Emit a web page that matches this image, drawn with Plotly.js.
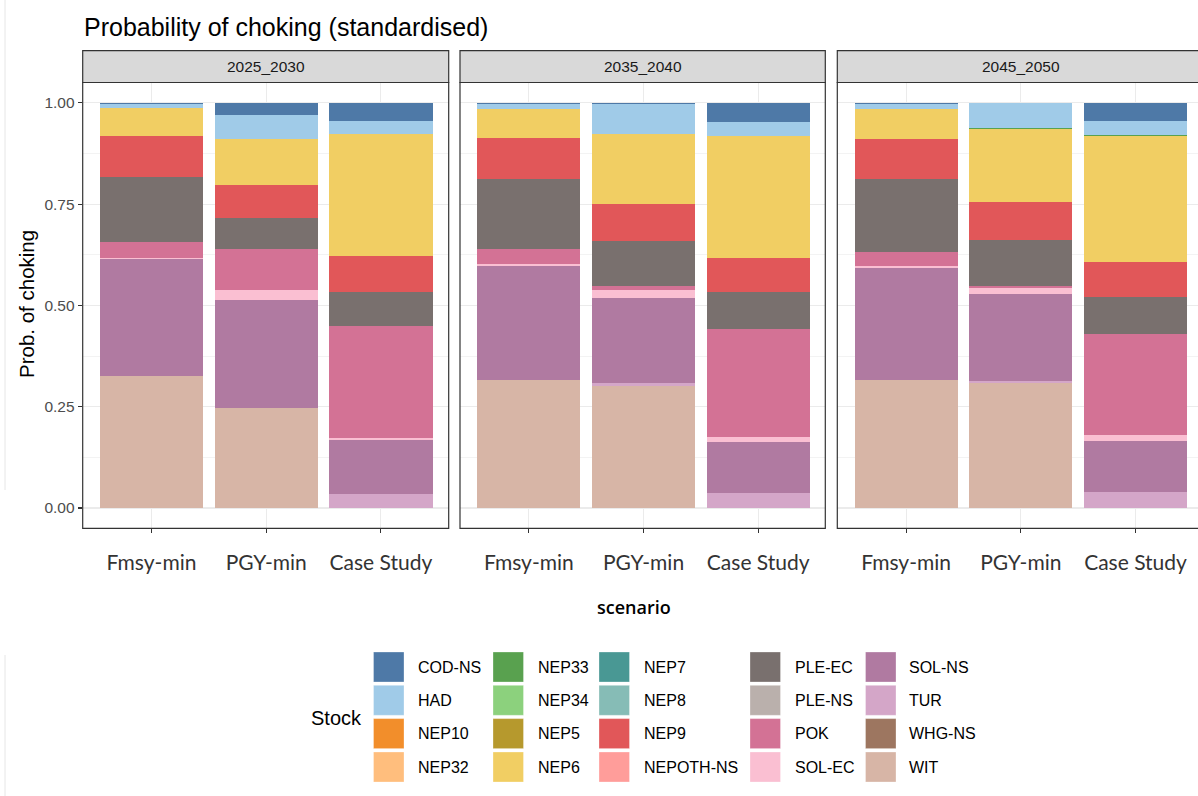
<!DOCTYPE html>
<html>
<head>
<meta charset="utf-8">
<script src="https://cdn.plot.ly/plotly-3.0.1.min.js"></script>
<style>html,body{margin:0;padding:0;background:#fff;}#chart{width:1198px;height:796px;}</style>
</head>
<body>
<div id="chart"></div>
<script>
// ---- data ----
const periods = ["2025_2030", "2035_2040", "2045_2050"];
const scenarios = ["Fmsy-min", "PGY-min", "Case Study"];
const stocks = ["COD-NS","HAD","NEP10","NEP32","NEP33","NEP34","NEP5","NEP6","NEP7","NEP8",
                "NEP9","NEPOTH-NS","PLE-EC","PLE-NS","POK","SOL-EC","SOL-NS","TUR","WHG-NS","WIT"];
const stockColors = ["#4E79A7","#A0CBE8","#F28E2B","#FFBE7D","#59A14F","#8CD17D","#B6992D","#F1CE63","#499894","#86BCB6",
                     "#E15759","#FF9D9A","#79706E","#BAB0AC","#D37295","#FABFD2","#B07AA1","#D4A6C8","#9D7660","#D7B5A6"];
const yTicks = [0, 0.25, 0.5, 0.75, 1.0];
const yTickLabels = ["0.00", "0.25", "0.50", "0.75", "1.00"];

// values per stock, order: [2025_2030 x (Fmsy, PGY, Case), 2035_2040 x (...), 2045_2050 x (...)]
const codNS   = [0.002, 0.029, 0.044,  0.003, 0.003, 0.047,  0.004, 0.000, 0.044];
const had     = [0.011, 0.061, 0.034,  0.012, 0.073, 0.034,  0.012, 0.062, 0.036];
const nep33   = [0.000, 0.000, 0.000,  0.000, 0.001, 0.001,  0.000, 0.003, 0.001];
const nep6    = [0.070, 0.113, 0.301,  0.072, 0.172, 0.301,  0.073, 0.179, 0.312];
const nep9    = [0.101, 0.082, 0.088,  0.101, 0.093, 0.085,  0.100, 0.094, 0.086];
const pleEC   = [0.159, 0.077, 0.084,  0.173, 0.111, 0.091,  0.179, 0.115, 0.092];
const pok     = [0.040, 0.099, 0.275,  0.037, 0.008, 0.266,  0.035, 0.003, 0.250];
const solEC   = [0.003, 0.025, 0.007,  0.005, 0.020, 0.012,  0.004, 0.017, 0.014];
const solNS   = [0.289, 0.266, 0.133,  0.282, 0.210, 0.125,  0.278, 0.214, 0.125];
const tur     = [0.000, 0.000, 0.034,  0.000, 0.008, 0.038,  0.000, 0.004, 0.040];
const wit     = [0.325, 0.248, 0.000,  0.315, 0.301, 0.000,  0.315, 0.309, 0.000];
const zeros   = [0, 0, 0, 0, 0, 0, 0, 0, 0];

const stockValues = {
  "COD-NS": codNS, "HAD": had, "NEP33": nep33, "NEP6": nep6, "NEP9": nep9,
  "PLE-EC": pleEC, "POK": pok, "SOL-EC": solEC, "SOL-NS": solNS, "TUR": tur, "WIT": wit
};

// ---- layout geometry (pixels) ----
const W = 1198, H = 796;
const panelX = [[82.7, 448.7], [460.0, 825.3], [837.3, 1198]];
const panelTop = 82.5, panelBot = 528.3, stripTop = 50.7;
const unitPx = 114.7;
const px = v => v / W, py = v => 1 - v / H;

const traces = [];
// ggplot stacks first level on top -> add traces in reverse order
for (let s = stocks.length - 1; s >= 0; s--) {
  const name = stocks[s];
  const vals = stockValues[name] || zeros;
  periods.forEach((p, pi) => {
    traces.push({
      type: "bar",
      name: name,
      x: scenarios,
      y: vals.slice(pi * 3, pi * 3 + 3),
      xaxis: pi === 0 ? "x" : "x" + (pi + 1),
      yaxis: "y",
      width: 0.9,
      marker: { color: stockColors[s], line: { width: 0 } },
      showlegend: false,
      hoverinfo: "name+y"
    });
  });
}

const layout = {
  width: W, height: H,
  margin: { l: 0, r: 0, t: 0, b: 0 },
  paper_bgcolor: "#ffffff",
  plot_bgcolor: "rgba(0,0,0,0)",
  barmode: "stack",
  bargap: 0,
  showlegend: false,
  font: { family: "Liberation Sans, Arial, sans-serif", color: "#000" },
  yaxis: {
    domain: [py(panelBot), py(panelTop)],
    range: [-0.05, 1.05],
    tickvals: yTicks, ticktext: yTickLabels,
    ticks: "outside", ticklen: 4, tickwidth: 1.1, tickcolor: "#333333",
    tickfont: { size: 15.5, color: "#4D4D4D", family: "Liberation Sans, Arial, sans-serif" },
    showgrid: true, gridcolor: "#EBEBEB", gridwidth: 1.1,
    minor: { dtick: 0.125, tick0: 0, showgrid: true, gridcolor: "#EBEBEB", gridwidth: 0.6, ticks: "" },
    zeroline: false, showline: false,
    anchor: "x", fixedrange: true
  },
  shapes: [],
  annotations: []
};

panelX.forEach((pxr, i) => {
  const key = i === 0 ? "xaxis" : "xaxis" + (i + 1);
  const widthUnits = (pxr[1] - pxr[0]) / unitPx;
  layout[key] = {
    domain: [px(pxr[0]), px(pxr[1])],
    type: "category",
    categoryorder: "array", categoryarray: scenarios,
    range: [-0.6, -0.6 + widthUnits],
    ticks: "outside", ticklen: 4, tickwidth: 1.1, tickcolor: "#333333",
    ticklabelstandoff: 11,
    tickfont: { size: 21, color: "#333333", family: "Lato, Open Sans, sans-serif" },
    showgrid: true, gridcolor: "#EBEBEB", gridwidth: 1.1,
    zeroline: false, showline: false,
    anchor: "y", fixedrange: true
  };
  const xr = i === 2 ? pxr[1] + 6 : pxr[1];
  // panel border
  layout.shapes.push({
    type: "rect", xref: "paper", yref: "paper",
    x0: px(pxr[0]), x1: px(xr), y0: py(panelBot), y1: py(panelTop),
    line: { color: "#333333", width: 1.2 }, fillcolor: "rgba(0,0,0,0)", layer: "above"
  });
  // strip
  layout.shapes.push({
    type: "rect", xref: "paper", yref: "paper",
    x0: px(pxr[0]), x1: px(xr), y0: py(panelTop), y1: py(stripTop),
    line: { color: "#333333", width: 1.2 }, fillcolor: "#D9D9D9", layer: "above"
  });
  layout.annotations.push({
    xref: "paper", yref: "paper",
    x: px((pxr[0] + xr) / 2), y: py((stripTop + panelTop) / 2),
    text: periods[i], showarrow: false, xanchor: "center", yanchor: "middle",
    font: { size: 15.5, color: "#1A1A1A", family: "Liberation Sans, Arial, sans-serif" }
  });
});

// faint crop lines at left edge
layout.shapes.push({ type: "line", xref: "paper", yref: "paper", x0: px(5), x1: px(5), y0: py(0), y1: py(490),
  line: { color: "#E6E6E6", width: 1 } });
layout.shapes.push({ type: "line", xref: "paper", yref: "paper", x0: px(5), x1: px(5), y0: py(655), y1: py(796),
  line: { color: "#E6E6E6", width: 1 } });

// title
layout.annotations.push({
  xref: "paper", yref: "paper", x: px(82), y: py(27), xanchor: "left", yanchor: "middle",
  text: "Probability of choking (standardised)", showarrow: false,
  font: { size: 25, color: "#000000", family: "Liberation Sans, Arial, sans-serif" }
});
// y axis title
layout.annotations.push({
  xref: "paper", yref: "paper", x: px(26), y: py(304), xanchor: "center", yanchor: "middle",
  text: "Prob. of choking", textangle: -90, showarrow: false,
  font: { size: 20.5, color: "#000000", family: "Liberation Sans, Arial, sans-serif" }
});
// x axis title
layout.annotations.push({
  xref: "paper", yref: "paper", x: px(634), y: py(607), xanchor: "center", yanchor: "middle",
  text: "scenario", showarrow: false,
  font: { size: 18, color: "#000000", family: "Open Sans, sans-serif", weight: 600 }
});

// ---- legend (drawn from stocks / stockColors) ----
const legColX = [373.5, 493, 599, 750, 865.5];
const legLabelX = [416, 535.5, 641.5, 792.5, 907];
const legRowY = [652, 685.3, 718.6, 752];
const sw = 30.5, sh = 30;
stocks.forEach((name, k) => {
  const c = Math.floor(k / 4), r = k % 4;
  const x0 = legColX[c], y0 = legRowY[r];
  layout.shapes.push({
    type: "rect", xref: "paper", yref: "paper",
    x0: px(x0), x1: px(x0 + sw), y0: py(y0 + sh), y1: py(y0),
    fillcolor: stockColors[k], line: { color: "rgba(255,255,255,0.6)", width: 0.5 }
  });
  layout.annotations.push({
    xref: "paper", yref: "paper", x: px(legLabelX[c]), y: py(y0 + sh / 2),
    xanchor: "left", yanchor: "middle", text: name, showarrow: false,
    font: { size: 16, color: "#000000", family: "Liberation Sans, Arial, sans-serif" }
  });
});
layout.annotations.push({
  xref: "paper", yref: "paper", x: px(309), y: py(718), xanchor: "left", yanchor: "middle",
  text: "Stock", showarrow: false,
  font: { size: 20, color: "#000000", family: "Liberation Sans, Arial, sans-serif" }
});

Plotly.newPlot("chart", traces, layout, { displayModeBar: false, staticPlot: true });
</script>
</body>
</html>
